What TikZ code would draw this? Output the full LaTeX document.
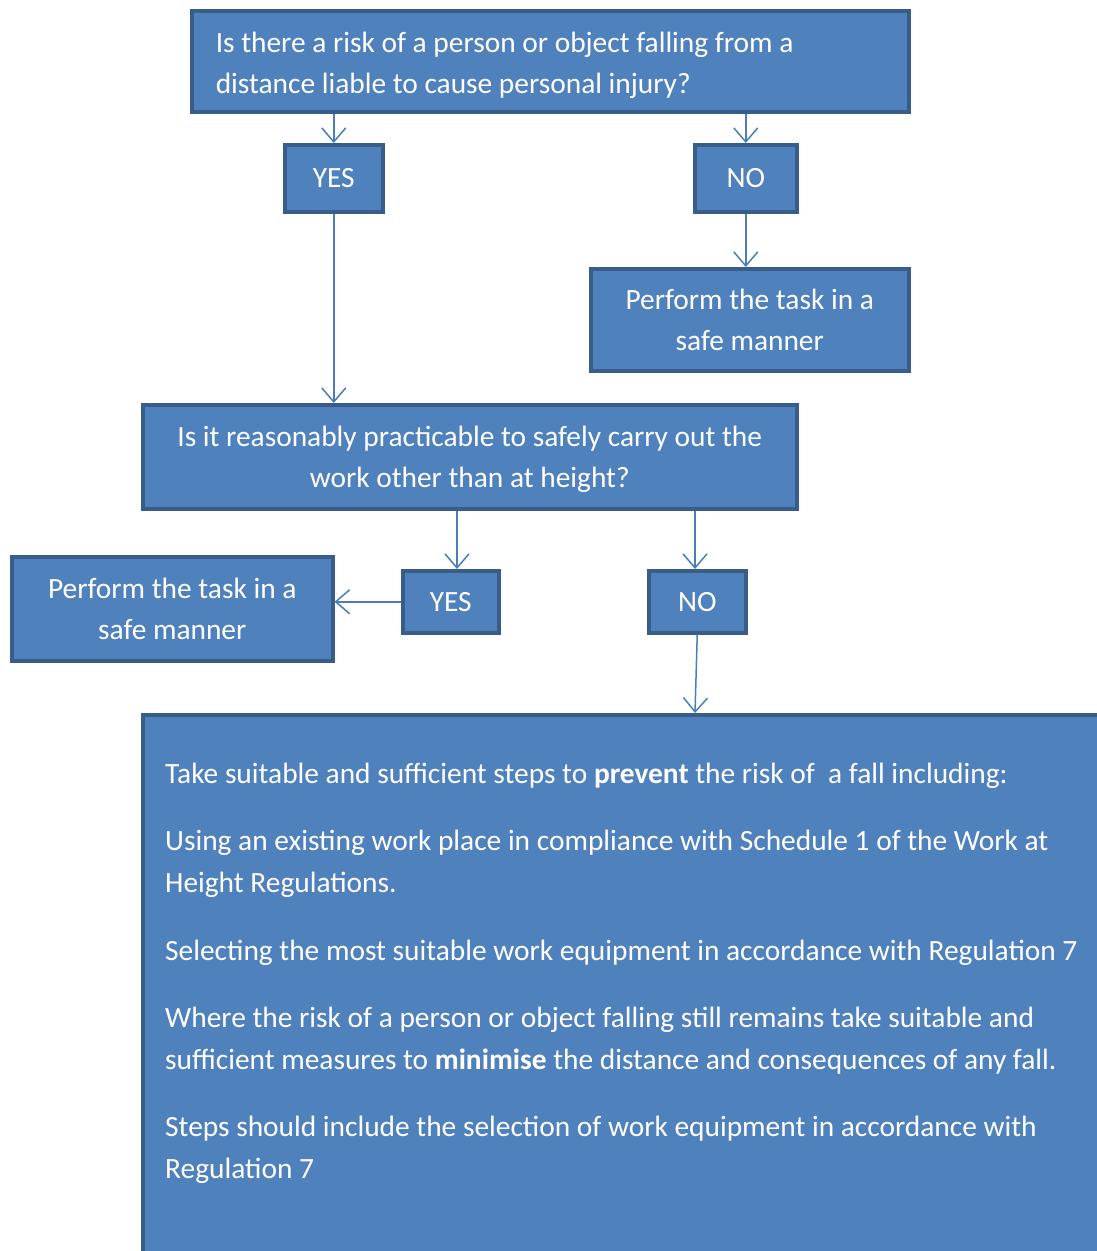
\documentclass[tikz,border=0pt]{standalone}
\usepackage{fontspec}
\setmainfont{Carlito}
\usetikzlibrary{arrows.meta}
\definecolor{boxfill}{HTML}{4F81BD}
\definecolor{boxline}{HTML}{385D8A}
\definecolor{arrowc}{HTML}{4A7EBB}
\begin{document}
\begin{tikzpicture}[x=1pt,y=-1pt,
 box/.style={draw=boxline, line width=3.5pt, fill=boxfill, text=white, text depth=0pt,
   font=\fontsize{29.4}{41}\selectfont, inner sep=0pt, anchor=north west, align=center},
 bigtext/.style={text=white, font=\fontsize{29.4}{42}\selectfont, inner sep=0pt, anchor=base west},
 arr/.style={draw=arrowc, line width=1.5pt, -{Straight Barb[length=14pt,width=24pt,line width=1.5pt]}}]
\useasboundingbox (0,0) rectangle (1096,1251);

\node[box, text depth={}, minimum width=717, minimum height=101, text width=669, align=flush left] (q1) at (190,9)
  {\rule{0pt}{28pt}Is there a risk of a person or object falling from a\\distance liable to cause personal injury?};
\node[box, minimum width=98, minimum height=67] (yes1) at (283,143) {YES};
\node[box, minimum width=102, minimum height=67] (no1) at (693,143) {NO};
\node[box, minimum width=318, minimum height=102] (perf1) at (589,267)
  {Perform the task in a\\safe manner};
\node[box, minimum width=654, minimum height=104] (q2) at (141,403)
  {Is it reasonably practicable to safely carry out the\\work other than at height?};
\node[box, minimum width=96, minimum height=62] (yes2) at (401,569) {YES};
\node[box, minimum width=97, minimum height=62] (no2) at (647,569) {NO};
\node[box, minimum width=321, minimum height=104] (perf2) at (10,555)
  {Perform the task in a\\safe manner};
\node[box, minimum width=990, minimum height=580] (big) at (141,713) {};

\node[bigtext] (t1) at (165,783) {Take suitable and sufficient steps to \textbf{prevent} the risk of ~a fall including:};
\node[bigtext] (t2) at (165,850) {Using an existing work place in compliance with Schedule 1 of the Work at};
\node[bigtext] (t3) at (165,892) {Height Regulations.};
\node[bigtext] (t4) at (165,960) {Selecting the most suitable work equipment in accordance with Regulation 7};
\node[bigtext] (t5) at (165,1027) {Where the risk of a person or object falling still remains take suitable and};
\node[bigtext] (t6) at (165,1069) {sufficient measures to \textbf{minimise} the distance and consequences of any fall.};
\node[bigtext] (t7) at (165,1136) {Steps should include the selection of work equipment in accordance with};
\node[bigtext] (t8) at (165,1178) {Regulation 7};

\draw[arr] (q1.south -| yes1) -- (yes1.north);
\draw[arr] (q1.south -| no1) -- (no1.north);
\draw[arr] (no1.south) -- (no1.south |- perf1.north);
\draw[arr] (yes1.south) -- (yes1.south |- q2.north);
\draw[arr] (q2.south -| 457,0) -- (457,0 |- yes2.north);
\draw[arr] (q2.south -| 695,0) -- (695,0 |- no2.north);
\draw[arr] (yes2.west) -- (yes2.west -| perf2.east);
\draw[arr] (no2.south) -- (big.north -| 695,0);
\end{tikzpicture}
\end{document}
